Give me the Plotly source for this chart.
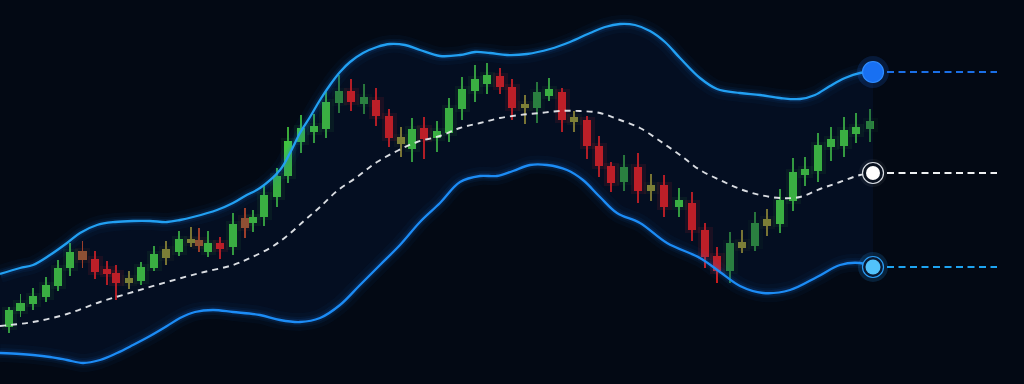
import plotly.graph_objects as go

# ---------------- data ----------------
T = [9, 20.5, 33, 46, 58, 70, 82.5, 95, 107, 116, 129, 141, 154, 166, 179, 191, 199, 208, 220, 233,
     245, 253, 264, 277, 288, 301, 314, 326, 339, 351, 364, 376, 389, 401, 412, 424, 437, 449, 462, 475,
     487, 500, 512, 525, 537, 549, 562, 574, 587, 599, 611, 624, 638, 651, 664, 679, 692, 705, 717, 730,
     742, 755, 767, 780, 793, 805, 818, 831, 844, 856, 870]

OPEN = [57, 73, 80, 87, 98, 116, 133, 125, 115, 111,
        106, 103, 116, 135, 132, 145, 144, 132, 141, 137,
        166, 161, 167, 187, 208, 242, 252, 255, 281, 293,
        280, 284, 268, 247, 235, 256, 246, 251, 275, 293,
        300, 308, 297, 280, 276, 288, 292, 267, 264, 238,
        218, 202, 217, 199, 199, 177, 181, 154, 128, 113,
        142, 138, 165, 160, 183, 209, 213, 237, 238, 250,
        255]
HIGH = [77, 90, 96, 107, 124, 141, 143, 133, 123, 119,
        113, 122, 138, 143, 153, 157, 156, 153, 147, 171,
        176, 174, 199, 216, 257, 269, 270, 292, 309, 305,
        300, 296, 275, 257, 266, 267, 263, 286, 307, 319,
        321, 316, 305, 289, 302, 306, 296, 273, 268, 248,
        222, 229, 231, 210, 209, 196, 192, 161, 137, 152,
        154, 172, 175, 195, 226, 227, 251, 257, 267, 271,
        275]
LOW = [51, 67, 74, 82, 93, 108, 116, 105, 99, 84,
       95, 99, 113, 119, 128, 137, 132, 127, 125, 129,
       146, 152, 158, 177, 201, 231, 241, 246, 271, 273,
       270, 258, 237, 227, 222, 225, 232, 242, 264, 282,
       290, 290, 264, 260, 261, 283, 252, 252, 225, 207,
       192, 193, 181, 183, 167, 167, 143, 116, 101, 101,
       131, 133, 148, 151, 173, 198, 202, 223, 227, 241,
       242]
CLOSE = [74, 81, 88, 99, 116, 132, 124, 112, 110, 101,
         101, 117, 130, 126, 145, 141, 138, 141, 135, 160,
         156, 167, 189, 208, 243, 256, 258, 282, 293, 282,
         287, 268, 246, 240, 255, 245, 253, 276, 295, 305,
         309, 297, 276, 276, 292, 295, 264, 262, 238, 218,
         201, 217, 193, 193, 177, 184, 154, 127, 113, 141,
         136, 161, 158, 184, 212, 215, 239, 245, 254, 257,
         263]
# candle tint: g bright green, d dark green, r red, o olive (doji), b brown
KIND = ["g", "g", "g", "g", "g", "g", "b", "r", "r", "r",
        "o", "g", "g", "o", "g", "o", "b", "g", "r", "g",
        "b", "g", "g", "g", "g", "g", "g", "g", "d", "r",
        "d", "r", "r", "o", "g", "r", "g", "g", "g", "g",
        "g", "r", "r", "o", "d", "g", "r", "o", "r", "r",
        "r", "d", "r", "o", "r", "g", "r", "r", "r", "d",
        "o", "d", "o", "g", "g", "g", "g", "g", "g", "g",
        "d"]

UPPER_T = [0, 20, 33, 50, 67, 80, 97, 115, 133, 150, 167, 180, 193, 217, 233, 245, 260, 280, 290, 300,
           310, 320, 330, 340, 350, 363, 377, 390, 405, 420, 440, 460, 475, 490, 507, 527, 550, 570, 590,
           605, 620, 635, 650, 665, 680, 700, 717, 740, 760, 780, 800, 815, 830, 845, 860, 873]
UPPER = [110, 116, 119, 129, 141, 151, 159, 162, 163, 163, 162, 164, 167, 174, 181, 188, 196, 214, 231, 251,
         267, 284, 299, 312, 322, 331, 337, 340, 339, 334, 328, 329, 332, 331, 329, 330, 335, 342, 351,
         357, 360, 359, 353, 342, 326, 306, 295, 291, 289, 286, 285, 289, 298, 306, 311, 312]

LOWER_T = [0, 20, 33, 50, 67, 83, 100, 117, 133, 150, 167, 180, 195, 213, 233, 260, 280, 300, 320, 340,
           360, 380, 400, 420, 440, 460, 480, 497, 513, 530, 547, 567, 583, 600, 617, 640, 667, 700, 720,
           740, 763, 790, 817, 840, 860, 873]
LOWER = [31, 30, 29, 27, 24, 21, 24, 31, 39, 48, 58, 66, 72, 74, 72, 69, 64, 62, 66, 79,
         99, 119, 139, 162, 181, 202, 208, 208, 213, 219, 219, 214, 204, 187, 171, 161, 141, 126, 112,
         98, 91, 94, 107, 119, 121, 117]

MID_T = [0, 33, 67, 100, 133, 167, 200, 233, 250, 270, 287, 305, 320, 337, 357, 377, 397, 417, 440, 460,
         480, 500, 520, 540, 560, 580, 600, 620, 640, 660, 680, 700, 720, 740, 760, 780, 800, 820, 840,
         860, 873]
MID = [58, 62, 70, 82, 92, 102, 111, 119, 126, 136, 148, 164, 177, 193, 207, 222, 233, 242, 248, 256,
       261, 266, 269, 271, 273, 273, 271, 264, 256, 243, 229, 214, 204, 195, 189, 186, 187, 195, 202,
       209, 211]

EXT_T = [887, 997]  # projection of the bands to the right

# ---------------- styling ----------------
BG = "#030914"
BODY_COL = {"g": "#42c43b", "d": "#2f8c38", "r": "#da1c1c", "o": "#8e8c2e", "b": "#a4562a"}
WICK_COL = {"g": "#3aaa38", "d": "#2c7f34", "r": "#cc1a1a", "o": "#8a7f2a", "b": "#b5401f"}
GLOW_COL = {"g": "rgba(60,200,60,0.08)", "d": "rgba(50,150,60,0.06)", "r": "rgba(230,30,30,0.12)",
            "o": "rgba(150,150,50,0.06)", "b": "rgba(190,80,30,0.08)"}
UP_COL = "#22a0f2"
LO_COL = "#1c8cf5"

fig = go.Figure()

# band fill
fig.add_trace(go.Scatter(x=LOWER_T, y=LOWER, mode="lines", line=dict(width=0, shape="spline"),
                         hoverinfo="skip"))
fig.add_trace(go.Scatter(x=UPPER_T, y=UPPER, mode="lines", line=dict(width=0, shape="spline"),
                         fill="tonexty", fillcolor="rgba(14,50,115,0.14)", hoverinfo="skip"))

# band glows
for w, a in [(18, 0.035), (10, 0.06), (6, 0.10)]:
    fig.add_trace(go.Scatter(x=UPPER_T, y=UPPER, mode="lines",
                             line=dict(width=w, color=f"rgba(30,140,255,{a})", shape="spline"),
                             hoverinfo="skip"))
    fig.add_trace(go.Scatter(x=LOWER_T, y=LOWER, mode="lines",
                             line=dict(width=w, color=f"rgba(30,130,255,{a})", shape="spline"),
                             hoverinfo="skip"))

# candles: glow, wicks, bodies per tint
for k in ["g", "d", "r", "o", "b"]:
    idx = [i for i, kk in enumerate(KIND) if kk == k]
    xs = [T[i] for i in idx]
    lo_body = [min(OPEN[i], CLOSE[i]) for i in idx]
    h_body = [max(abs(OPEN[i] - CLOSE[i]), 1.5) for i in idx]
    fig.add_trace(go.Bar(x=xs, base=[b - 3 for b in lo_body], y=[h + 6 for h in h_body], width=15,
                         marker=dict(color=GLOW_COL[k], line=dict(width=0)), hoverinfo="skip"))
for k in ["g", "d", "r", "o", "b"]:
    idx = [i for i, kk in enumerate(KIND) if kk == k]
    xs = [T[i] for i in idx]
    fig.add_trace(go.Bar(x=xs, base=[LOW[i] for i in idx], y=[HIGH[i] - LOW[i] for i in idx], width=1.5,
                         marker=dict(color=WICK_COL[k], line=dict(width=0)), hoverinfo="skip"))
for k in ["g", "d", "r", "o", "b"]:
    idx = [i for i, kk in enumerate(KIND) if kk == k]
    xs = [T[i] for i in idx]
    lo_body = [min(OPEN[i], CLOSE[i]) for i in idx]
    h_body = [max(abs(OPEN[i] - CLOSE[i]), 1.5) for i in idx]
    fig.add_trace(go.Bar(x=xs, base=lo_body, y=h_body, width=8.5,
                         marker=dict(color=BODY_COL[k], line=dict(width=0)), hoverinfo="skip"))

# band lines
fig.add_trace(go.Scatter(x=UPPER_T, y=UPPER, mode="lines",
                         line=dict(width=2.3, color=UP_COL, shape="spline"), hoverinfo="skip"))
fig.add_trace(go.Scatter(x=LOWER_T, y=LOWER, mode="lines",
                         line=dict(width=2.3, color=LO_COL, shape="spline"), hoverinfo="skip"))
fig.add_trace(go.Scatter(x=MID_T, y=MID, mode="lines",
                         line=dict(width=1.9, color="rgba(235,238,242,0.92)", dash="6px,5px", shape="spline"),
                         hoverinfo="skip"))

# projections
fig.add_trace(go.Scatter(x=EXT_T, y=[UPPER[-1]] * 2, mode="lines",
                         line=dict(width=2, color="#1a6fe6", dash="7px,4.5px"), hoverinfo="skip"))
fig.add_trace(go.Scatter(x=EXT_T, y=[MID[-1]] * 2, mode="lines",
                         line=dict(width=2, color="#eef0f2", dash="7px,4.5px"), hoverinfo="skip"))
fig.add_trace(go.Scatter(x=EXT_T, y=[LOWER[-1]] * 2, mode="lines",
                         line=dict(width=2, color="#1ea4f2", dash="7px,4.5px"), hoverinfo="skip"))

# end markers
ends_x = [UPPER_T[-1], MID_T[-1], LOWER_T[-1]]
ends_y = [UPPER[-1], MID[-1], LOWER[-1]]
marker_layers = [
    ([32, 28, 30], ["rgba(30,120,255,0.16)", "rgba(255,255,255,0.05)", "rgba(40,160,255,0.16)"], 0, None),
    ([21, 21, 21], ["#1870f2", "#0a1220", "#0a1a33"], 1.2, ["#2f8cff", "#d8dde4", "#2a9df5"]),
]
for sizes, cols, lw, lcols in marker_layers:
    fig.add_trace(go.Scatter(x=ends_x, y=ends_y, mode="markers", opacity=1,
                             marker=dict(size=sizes, color=cols, opacity=1,
                                         line=dict(width=lw, color=lcols if lcols else "rgba(0,0,0,0)")),
                             hoverinfo="skip"))
fig.add_trace(go.Scatter(x=ends_x[1:], y=ends_y[1:], mode="markers", opacity=1,
                         marker=dict(size=[14, 15], color=["#ffffff", "#52c2fa"], opacity=1,
                                     line=dict(width=0)), hoverinfo="skip"))

fig.update_layout(
    width=1024, height=384, autosize=False,
    margin=dict(l=0, r=0, t=0, b=0),
    paper_bgcolor=BG, plot_bgcolor=BG,
    showlegend=False, barmode="overlay", bargap=0,
    xaxis=dict(range=[0, 1024], visible=False, showgrid=False, zeroline=False, fixedrange=True),
    yaxis=dict(range=[0, 384], visible=False, showgrid=False, zeroline=False, fixedrange=True),
    hovermode=False,
)

fig.write_html("out.html", config={"displayModeBar": False, "staticPlot": True})
